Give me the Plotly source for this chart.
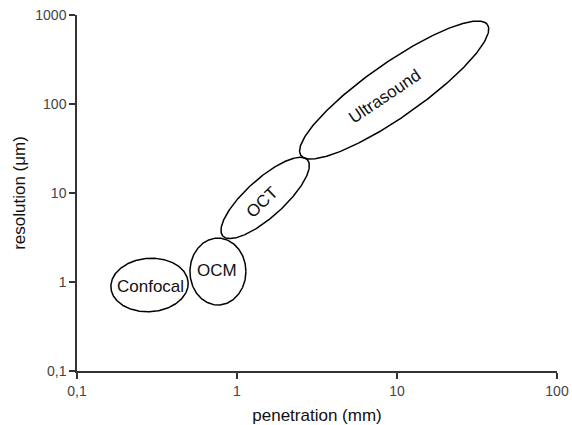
import numpy as np
import plotly.graph_objects as go

# Data: imaging modalities (penetration in mm, resolution in micrometres)
modalities = ["Confocal", "OCM", "OCT", "Ultrasound"]
center_pen = [0.284, 0.76, 1.50, 9.6]        # mm
center_res = [0.925, 1.31, 8.8, 143.6]       # um
# ellipse semi-axes expressed in decades of the x axis, angle in degrees (display space)
semi_major = [0.242, 0.175, 0.356, 0.712]
semi_minor = [0.167, 0.209, 0.119, 0.169]
angle_deg = [4, 0, 42, 35]
label_pen = [0.286, 0.75, 1.43, 8.4]
label_res = [0.879, 1.33, 7.9, 120]
label_rot = [0, 0, -44, -34]

x_tickvals = [0.1, 1, 10, 100]
x_ticktext = ["0,1", "1", "10", "100"]
y_tickvals = [0.1, 1, 10, 100, 1000]
y_ticktext = ["0,1", "1", "10", "100", "1000"]

W, H = 572, 425
ml, mr, mt, mb = 77, 15, 15, 54
pw, ph = W - ml - mr, H - mt - mb
px_per_dec_x = pw / 3.0
px_per_dec_y = ph / 4.0

FONT = "Liberation Sans, Arial, sans-serif"

fig = go.Figure()
t = np.linspace(0, 2 * np.pi, 361)
for i, name in enumerate(modalities):
    a = semi_major[i] * px_per_dec_x
    b = semi_minor[i] * px_per_dec_x
    th = np.radians(angle_deg[i])
    ux = a * np.cos(t)
    uy = b * np.sin(t)
    dx = ux * np.cos(th) - uy * np.sin(th)   # pixels, +right
    dy = ux * np.sin(th) + uy * np.cos(th)   # pixels, +up
    lx = np.log10(center_pen[i]) + dx / px_per_dec_x
    ly = np.log10(center_res[i]) + dy / px_per_dec_y
    fig.add_trace(go.Scatter(x=10 ** lx, y=10 ** ly, mode="lines",
                             line=dict(color="black", width=1.5),
                             hoverinfo="skip", showlegend=False, cliponaxis=False))
    fig.add_annotation(x=np.log10(label_pen[i]), y=np.log10(label_res[i]),
                       text=name, showarrow=False, textangle=label_rot[i],
                       font=dict(family=FONT, size=17, color="#111"))

axis_common = dict(type="log", showgrid=False, zeroline=False, showline=True,
                   linecolor="#333", linewidth=1.5, ticks="outside", ticklen=6,
                   tickcolor="#333", tickwidth=1.5, automargin=False,
                   tickfont=dict(family=FONT, size=14, color="#444"),
                   title_font=dict(family=FONT, size=17, color="#111"))

fig.update_layout(
    width=W, height=H,
    margin=dict(l=ml, r=mr, t=mt, b=mb, pad=0, autoexpand=False),
    paper_bgcolor="white", plot_bgcolor="white",
    showlegend=False,
    xaxis=dict(range=[-1, 2], tickvals=x_tickvals, ticktext=x_ticktext,
               title=dict(text="penetration (mm)", standoff=12), **axis_common),
    yaxis=dict(range=[-1, 3], tickvals=y_tickvals, ticktext=y_ticktext,
               title=dict(text="resolution (μm)", standoff=5), **axis_common),
)

fig.write_html("out.html", config={"displayModeBar": False},
               post_script="document.body.style.margin='0';document.body.style.overflow='hidden';")
